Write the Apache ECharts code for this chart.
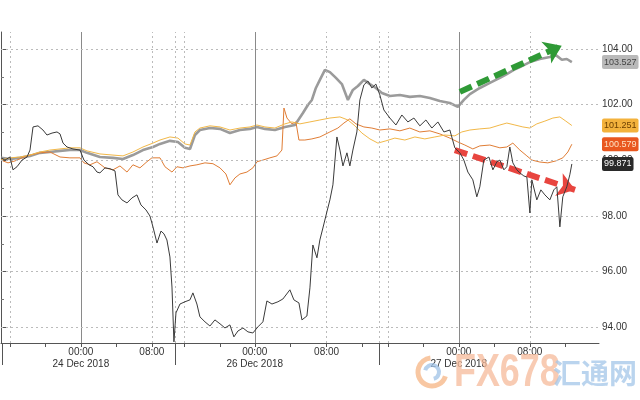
<!DOCTYPE html>
<html><head><meta charset="utf-8">
<script src="https://cdn.jsdelivr.net/npm/echarts@6/dist/echarts.min.js"></script>
<style>html,body{margin:0;padding:0;background:#fff}#c{width:640px;height:400px}</style>
</head><body><div id="c"></div>
<script>
// x unit: trading hours from the chart start (15:00 23 Dec 2018), holiday gap compressed
const tickPos = [1.0, 5.0, 9.0, 13.0, 17.0, 20.7, 24.7, 28.6, 32.6, 36.7, 40.7, 43.6, 47.6, 51.6, 55.6, 59.6, 63.6];
const labelPos = [9.0, 17.0, 28.6, 36.7, 51.6, 59.6];
const labelText = ['00:00\n24 Dec 2018', '08:00', '00:00\n26 Dec 2018', '08:00', '00:00\n27 Dec 2018', '08:00'];
const sessionBreaks = [0.1, 19.6, 42.6];
const dottedGrid = [1.0, 17.0, 19.6, 20.7, 36.7, 42.6, 43.6, 59.6];
const midnightGrid = [9.0, 28.6, 51.6];
const yLabels = [94, 96, 98, 100, 102, 104];
const yMinor = [95, 97, 99, 101, 103];

const grayTime = [0,1.01,2.14,3.27,4.39,5.52,6.65,7.77,8.90,9.69,11.15,12.62,13.75,14.87,16.00,17.13,17.92,19.04,19.94,20.73,21.30,21.86,22.42,23.55,24.68,25.80,26.93,28.06,28.85,29.75,30.87,32.00,33.13,34.03,34.59,35.04,35.49,35.94,36.51,37.07,37.75,38.42,39.10,39.66,40.23,40.90,41.58,42.25,42.93,43.83,44.96,46.08,47.21,48.34,49.46,50.59,51.49,52.17,52.85,53.97,55.10,56.23,57.01,57.80,58.48,59.61,60.73,61.86,62.54,63.21,63.77,64.34];
const grayValue = [100.09,100.05,100.09,100.16,100.27,100.30,100.34,100.37,100.37,100.27,100.12,100.09,100.05,100.19,100.37,100.48,100.59,100.70,100.66,100.45,100.41,100.91,101.09,101.16,101.13,100.98,101.09,101.13,101.20,101.13,101.09,101.20,101.27,101.70,101.99,102.17,102.60,102.89,103.25,103.17,102.96,102.74,102.17,102.53,102.67,102.89,102.74,102.60,102.42,102.31,102.35,102.28,102.31,102.24,102.13,102.06,101.92,102.17,102.38,102.60,102.78,102.96,103.10,103.25,103.35,103.53,103.64,103.71,103.78,103.61,103.64,103.527];

const yellowTime = [0,1.01,2.14,3.27,4.39,5.52,6.65,7.77,8.90,9.69,11.15,12.62,13.75,14.87,16.00,17.13,17.92,19.04,19.94,20.73,21.30,21.86,22.42,23.55,24.68,25.80,26.93,28.06,28.85,29.75,30.87,32.00,32.79,33.69,34.82,35.94,37.07,38.20,39.10,39.89,40.68,41.58,42.48,43.38,44.39,45.52,46.65,47.77,48.90,50.03,51.15,51.94,52.85,53.97,55.10,56.23,57.01,57.92,58.82,59.61,60.39,61.30,62.20,62.99,63.66,64.34];
const yellowValue = [100.01,100.09,100.12,100.19,100.30,100.37,100.41,100.45,100.45,100.34,100.23,100.19,100.16,100.30,100.48,100.62,100.73,100.84,100.80,100.59,100.55,101.02,101.16,101.24,101.20,101.09,101.16,101.20,101.27,101.20,101.16,101.31,101.38,101.31,101.38,101.45,101.52,101.56,101.45,101.24,100.98,100.77,100.62,100.70,100.80,100.73,100.84,100.77,100.84,100.91,100.88,101.02,101.09,101.13,101.16,101.27,101.34,101.27,101.20,101.16,101.31,101.41,101.52,101.56,101.41,101.251];

const orangeTime = [0,0.79,1.58,2.37,3.27,4.39,5.52,6.65,7.77,8.90,9.35,10.03,10.82,11.72,12.62,13.41,14.20,14.87,15.66,16.45,17.01,17.92,18.48,19.27,19.83,20.51,21.30,22.08,22.99,23.89,24.68,25.35,25.80,26.37,26.93,27.72,28.39,28.85,29.52,30.31,31.10,31.66,31.89,32.23,32.79,33.24,33.58,34.25,35.04,35.94,37.07,37.97,38.65,39.32,40.00,40.90,41.80,42.70,43.83,44.96,46.08,47.21,48.34,49.46,50.59,51.49,52.28,53.18,53.97,55.10,56.23,57.01,57.69,58.48,59.27,59.83,60.73,61.63,62.54,63.32,63.89,64.34];
const orangeValue = [100.01,99.91,99.98,100.09,100.19,100.27,100.30,100.12,100.09,100.09,99.91,99.84,99.95,99.73,99.66,99.80,99.58,99.84,99.73,99.95,100.09,100.09,99.77,99.58,99.77,99.73,99.80,99.84,99.91,99.88,99.73,99.51,99.12,99.37,99.51,99.58,99.73,99.95,100.01,100.09,100.16,100.37,101.88,101.52,101.31,101.38,100.73,100.73,100.77,100.84,101.02,101.16,101.34,101.49,101.31,101.20,101.16,101.09,101.13,101.06,101.16,101.02,101.06,100.95,100.80,100.66,100.55,100.41,100.52,100.55,100.45,100.48,100.62,100.37,100.16,100.01,99.94,99.91,99.98,100.09,100.30,100.579];

const blackTime = [0,0.45,1.01,1.35,1.80,2.37,2.93,3.27,3.61,4.17,4.73,5.18,5.75,6.31,6.65,6.99,7.44,8.11,8.90,9.35,9.92,10.37,10.82,11.15,11.72,12.28,12.85,13.18,13.63,14.20,14.76,15.32,15.77,16.34,16.79,17.13,17.58,18.03,18.37,18.70,19.04,19.27,19.49,19.72,20.17,20.73,21.30,21.63,22.08,22.42,22.99,23.55,24.11,24.68,25.24,25.80,26.25,26.70,27.27,27.83,28.39,28.96,29.52,29.97,30.54,31.21,31.77,32.56,33.01,33.58,33.92,34.48,34.82,35.15,35.61,35.94,36.28,36.73,37.07,37.41,37.86,38.20,38.54,38.99,39.32,39.66,40.11,40.45,40.90,41.35,41.80,42.25,42.70,43.15,43.83,44.51,45.18,45.86,46.54,47.21,47.89,48.56,49.24,49.92,50.59,51.15,51.72,52.17,52.62,53.18,53.63,53.97,54.42,54.99,55.44,55.89,56.23,56.68,57.01,57.35,57.69,58.14,58.48,58.93,59.27,59.61,59.83,60.39,60.85,61.30,61.86,62.31,62.65,62.99,63.32,63.77,64.11,64.34];
const blackValue = [100.09,100.01,100.12,99.66,99.77,100.01,100.12,100.37,101.20,101.24,101.09,100.91,100.98,101.02,100.95,100.62,100.48,100.41,100.37,100.01,99.84,99.77,99.58,99.55,99.73,99.70,99.62,98.76,98.58,98.47,98.65,98.76,98.40,98.22,98.00,97.61,97.03,97.46,97.36,97.14,96.53,95.45,93.48,94.52,94.84,94.92,94.99,95.24,94.84,94.38,94.20,94.05,94.27,94.13,93.98,94.09,93.66,93.87,93.98,93.84,93.80,94.02,94.20,94.95,94.84,94.92,95.02,95.35,94.99,94.88,94.27,94.41,95.42,96.96,96.50,97.14,97.57,98.15,98.58,99.12,100.84,100.37,99.80,100.27,99.80,100.37,101.02,102.17,102.71,102.85,102.60,102.74,102.35,101.81,101.52,101.27,101.63,101.38,101.52,101.24,101.45,101.16,101.38,101.02,101.09,100.45,100.27,100.01,99.58,99.30,98.69,99.05,100.01,100.12,99.66,99.95,100.01,99.66,99.77,100.48,99.91,99.66,99.55,99.44,99.40,98.11,99.30,98.58,98.94,98.76,98.58,98.94,99.05,97.61,98.69,99.05,99.48,99.871];

const lastValues = [103.527, 101.251, 100.579, 99.871];
const badgeBg = ['#b9b9b9', '#f3b23c', '#e9571f', '#2a2a2a'];
const badgeFg = ['#444444', '#6b3f00', '#fde2c4', '#ffffff'];
const greenArrow = [[51.72, 102.46], [63.2, 104.12]];
const redArrow = [[51.15, 100.37], [64.7, 98.94]];

const zip = (t, v) => t.map((x, i) => [x, v[i]]);
const FONT = 'Liberation Sans';

const chart = echarts.init(document.getElementById('c'), null, { renderer: 'canvas' });
chart.setOption({
  animation: false,
  backgroundColor: '#fff',
  grid: { left: 1, right: 41, top: 32, bottom: 57, containLabel: false },
  xAxis: [{
    type: 'value', min: 0, max: 67.4, position: 'bottom',
    axisLine: { show: true, lineStyle: { color: '#555', width: 1 } },
    axisTick: { show: true, customValues: tickPos, length: 4, lineStyle: { color: '#555' } },
    axisLabel: {
      show: true, customValues: labelPos, margin: 3, fontSize: 10, lineHeight: 12,
      fontFamily: FONT, color: '#333',
      formatter: v => { const i = labelPos.findIndex(p => Math.abs(p - v) < 1e-6); return i >= 0 ? labelText[i] : ''; }
    },
    splitLine: { show: false }
  }, {
    type: 'value', min: 0, max: 67.4, position: 'bottom',
    axisLine: { show: false },
    axisTick: { show: true, customValues: sessionBreaks, length: 22, lineStyle: { color: '#555' } },
    axisLabel: { show: false },
    splitLine: { show: false }
  }],
  yAxis: [{
    type: 'value', min: 93.44, max: 104.61, position: 'right',
    axisLine: { show: true, lineStyle: { color: '#555', width: 1 } },
    axisTick: { show: true, customValues: yLabels, length: 5, lineStyle: { color: '#555' } },
    axisLabel: { show: true, customValues: yLabels, margin: 3, fontSize: 10, fontFamily: FONT, color: '#333', formatter: v => v.toFixed(2) },
    splitLine: { show: false }
  }, {
    type: 'value', min: 93.44, max: 104.61, position: 'right',
    axisLine: { show: false },
    axisTick: { show: true, customValues: yMinor, length: 3, lineStyle: { color: '#777' } },
    axisLabel: { show: false },
    splitLine: { show: false }
  }],
  series: [
    {
      type: 'line', data: [], silent: true, z: 1,
      markLine: {
        silent: true, symbol: 'none', animation: false, label: { show: false },
        emphasis: { disabled: true },
        data: [
          ...dottedGrid.map(x => ({ xAxis: x, lineStyle: { color: '#bbb', type: [2, 3], width: 1 } })),
          ...midnightGrid.map(x => ({ xAxis: x, lineStyle: { color: '#8a8a8a', type: 'solid', width: 1 } })),
          ...yLabels.map(y => ({ yAxis: y, lineStyle: { color: '#bbb', type: [2, 3], width: 1 } }))
        ]
      }
    },
    { name: 'gray', type: 'line', z: 2, showSymbol: false, symbol: 'none', data: zip(grayTime, grayValue),
      lineStyle: { color: '#9b9b9b', width: 2.6 } },
    { name: 'orange', type: 'line', z: 3, showSymbol: false, symbol: 'none', data: zip(orangeTime, orangeValue),
      lineStyle: { color: '#e07d35', width: 1 } },
    { name: 'yellow', type: 'line', z: 4, showSymbol: false, symbol: 'none', data: zip(yellowTime, yellowValue),
      lineStyle: { color: '#f2b848', width: 1 } },
    { name: 'black', type: 'line', z: 5, showSymbol: false, symbol: 'none', data: zip(blackTime, blackValue),
      lineStyle: { color: '#3a3a3a', width: 1 } },
    {
      type: 'line', data: [], silent: true, z: 10,
      markLine: {
        silent: true, animation: false, label: { show: false }, emphasis: { disabled: true },
        symbol: ['none', 'arrow'], symbolSize: [18, 17],
        data: [
          [{ coord: greenArrow[0], lineStyle: { color: '#2f9a36', width: 6, type: [13, 6] }, itemStyle: { color: '#2f9a36' } },
           { coord: greenArrow[1] }],
          [{ coord: redArrow[0], lineStyle: { color: '#e8453f', width: 6, type: [13, 6] }, itemStyle: { color: '#e8453f' } },
           { coord: redArrow[1] }]
        ]
      }
    },
    {
      type: 'line', data: [], silent: true, z: 12,
      markLine: {
        silent: true, symbol: 'none', animation: false, emphasis: { disabled: true },
        lineStyle: { color: 'rgba(0,0,0,0)', width: 0 },
        data: lastValues.map((v, i) => ({
          yAxis: v,
          label: {
            show: true, position: 'end', distance: 3,
            formatter: () => v.toFixed(3),
            backgroundColor: badgeBg[i], color: badgeFg[i], fontSize: 9, fontFamily: FONT,
            padding: [3, 2, 2, 2], borderRadius: 2
          }
        }))
      }
    }
  ],
  graphic: [
    { type: 'arc', silent: true, z: 20, shape: { cx: 432, cy: 372, r: 14, startAngle: 0.3, endAngle: 4.6 },
      style: { stroke: '#f6b483', lineWidth: 5, fill: null, opacity: 0.75 } },
    { type: 'arc', silent: true, z: 20, shape: { cx: 432, cy: 372, r: 7, startAngle: 3.4, endAngle: 7.6 },
      style: { stroke: '#9fc2e6', lineWidth: 4, fill: null, opacity: 0.75 } },
    { type: 'text', silent: true, z: 20, x: 454, y: 373, scaleX: 0.78,
      style: { text: 'FX678', font: 'bold 46px "Liberation Sans Narrow", "Liberation Sans"', verticalAlign: 'middle', fill: '#f6b99a', opacity: 0.75 } },
    { type: 'text', silent: true, z: 20, x: 553, y: 373,
      style: { text: '汇通网', font: 'bold 28px "Noto Sans CJK SC"', verticalAlign: 'middle', fill: '#a3c5e8', opacity: 0.75 } }
  ]
});
</script>
</body></html>
